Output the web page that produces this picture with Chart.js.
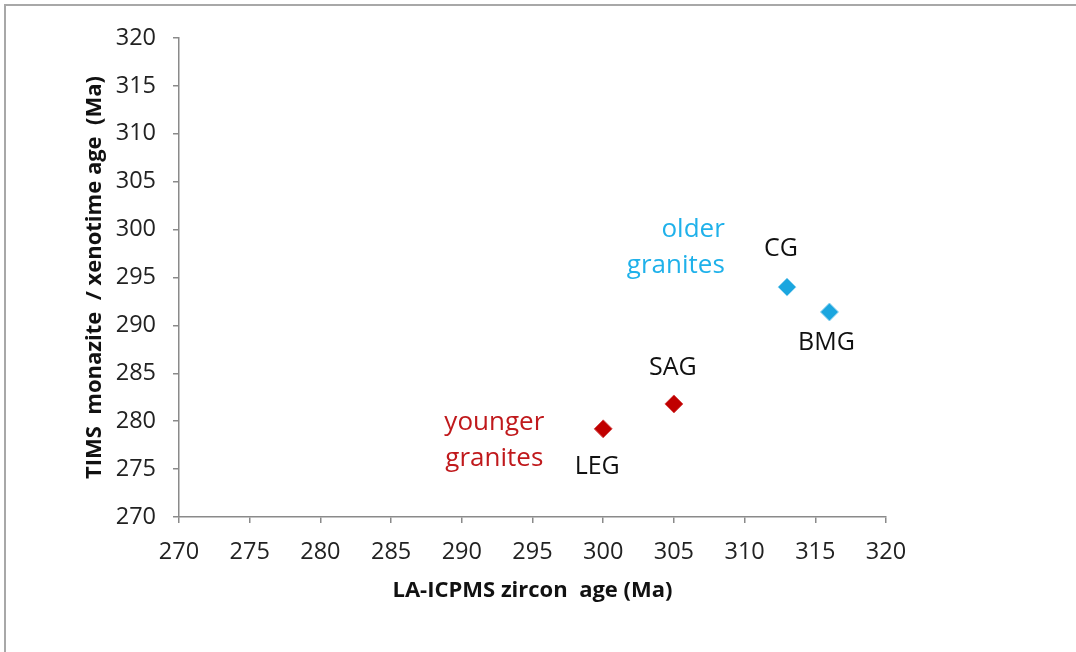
<!DOCTYPE html>
<html>
<head>
<meta charset="utf-8">
<script src="https://cdn.jsdelivr.net/npm/chart.js@4/dist/chart.umd.min.js"></script>
<style>
  html, body { margin: 0; padding: 0; background: #fff; }
  #frame { position: absolute; left: 4px; top: 4px; width: 2000px; height: 2000px; border: 2px solid #a8a8a8; }
  #wrap { position: absolute; left: 0; top: 0; width: 1076px; height: 652px; }
</style>
</head>
<body>
<div id="frame"></div>
<div id="wrap"><canvas id="chartCanvas" width="1076" height="652"></canvas></div>
<script>
// Data
const olderNames = ['CG', 'BMG'];
const olderZircon = [313, 316];
const olderMonazite = [294, 291.4];

const youngerNames = ['SAG', 'LEG'];
const youngerZircon = [305, 300];
const youngerMonazite = [281.8, 279.2];

// group labels: text lines, anchor in data units
const groupLabels = [
  { lines: ['older', 'granites'], x: 308.6, y: 300.0, color: '#1fb1ea', align: 'right' },
  { lines: ['younger', 'granites'], x: 292.3, y: 279.9, color: '#c0191c', align: 'center' }
];

// point name offsets (px) relative to their marker
const nameOffsets = { CG: [-6, -38], BMG: [-3, 31], SAG: [-1, -36], LEG: [-6, 38] };

const FONT = "'Open Sans', sans-serif";

const labelPlugin = {
  id: 'labels',
  afterDatasetsDraw(chart) {
    const c = chart.ctx;
    const xs = chart.scales.x, ys = chart.scales.y;
    c.save();
    c.textBaseline = 'middle';
    // point names
    c.fillStyle = '#111';
    c.font = '25px ' + FONT;
    c.textAlign = 'center';
    chart.data.datasets.forEach((ds, di) => {
      const meta = chart.getDatasetMeta(di);
      meta.data.forEach((pt, i) => {
        const name = ds.names[i];
        const off = nameOffsets[name];
        c.fillText(name, pt.x + off[0], pt.y + off[1]);
      });
    });
    // group labels
    c.font = '26px ' + FONT;
    groupLabels.forEach(g => {
      c.fillStyle = g.color;
      c.textAlign = g.align;
      const px = xs.getPixelForValue(g.x);
      const py = ys.getPixelForValue(g.y);
      g.lines.forEach((ln, k) => c.fillText(ln, px, py + k * 36));
    });
    c.restore();
  }
};

const axisColor = '#8a8a8a';
const tickFont = { family: FONT, size: 23.5 };
const titleFont = { family: FONT, size: 22, weight: 'bold' };

new Chart(document.getElementById('chartCanvas').getContext('2d'), {
  type: 'scatter',
  data: {
    datasets: [
      {
        label: 'older granites',
        names: olderNames,
        data: olderZircon.map((v, i) => ({ x: v, y: olderMonazite[i] })),
        pointStyle: 'rectRot',
        pointRadius: 9,
        backgroundColor: '#1ba6df',
        borderColor: '#8fd3f0',
        borderWidth: 1
      },
      {
        label: 'younger granites',
        names: youngerNames,
        data: youngerZircon.map((v, i) => ({ x: v, y: youngerMonazite[i] })),
        pointStyle: 'rectRot',
        pointRadius: 9,
        backgroundColor: '#c00000',
        borderColor: '#d65050',
        borderWidth: 1
      }
    ]
  },
  options: {
    responsive: false,
    animation: false,
    layout: { padding: { left: 0, top: 38, right: 190, bottom: 0 } },
    plugins: { legend: { display: false }, tooltip: { enabled: false } },
    scales: {
      x: {
        type: 'linear',
        min: 270, max: 320,
        ticks: { stepSize: 5, color: '#222', font: tickFont, padding: 15, maxRotation: 0 },
        grid: { drawOnChartArea: false, drawTicks: true, tickLength: 6, color: axisColor, lineWidth: 1.5 },
        border: { display: true, color: axisColor, width: 1.5 },
        title: { display: true, text: 'LA-ICPMS zircon  age (Ma)', color: '#111', font: titleFont, padding: { top: 0, bottom: 48 } },
        afterFit(scale) { scale.height = 135; }
      },
      y: {
        type: 'linear',
        min: 270, max: 320,
        ticks: { stepSize: 5, color: '#222', font: tickFont, padding: 17 },
        grid: { drawOnChartArea: false, drawTicks: true, tickLength: 6, color: axisColor, lineWidth: 1.5 },
        border: { display: true, color: axisColor, width: 1.5 },
        title: { display: true, text: 'TIMS  monazite  / xenotime age  (Ma)', color: '#111', font: titleFont, padding: { top: 82, bottom: 0 } },
        afterFit(scale) { scale.width = 179; }
      }
    }
  },
  plugins: [labelPlugin]
});
</script>
</body>
</html>
